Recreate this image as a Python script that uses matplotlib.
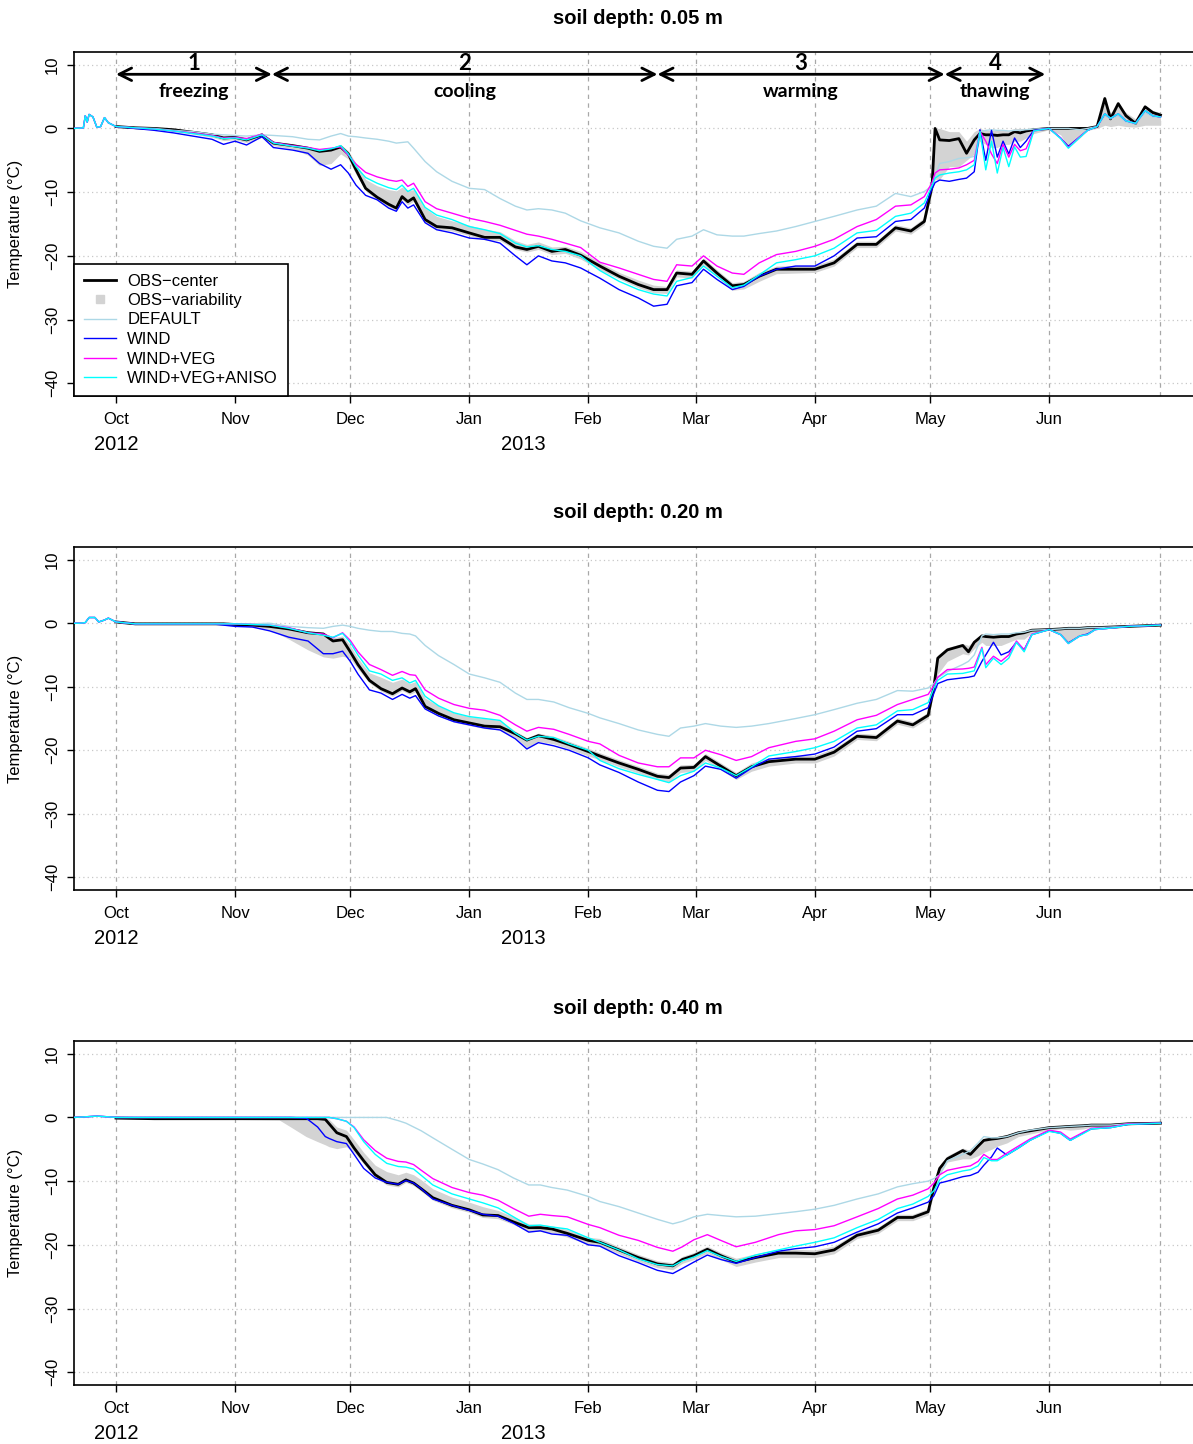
import numpy as np
import matplotlib
matplotlib.use('Agg')
import matplotlib.pyplot as plt
import matplotlib.dates as mdates
from matplotlib.lines import Line2D

plt.rcParams['font.family'] = ['Liberation Sans', 'DejaVu Sans']
plt.rcParams['axes.unicode_minus'] = True
nan = float('nan')

# ---------------- labels / categories ----------------
BASE_DATE = '2012-10-01'          # day 0 of every day-offset list below
panel_titles = ['soil depth: 0.05 m', 'soil depth: 0.20 m', 'soil depth: 0.40 m']
month_ticks = ['2012-10-01', '2012-11-01', '2012-12-01', '2013-01-01', '2013-02-01',
               '2013-03-01', '2013-04-01', '2013-05-01', '2013-06-01']
month_labels = ['Oct', 'Nov', 'Dec', 'Jan', 'Feb', 'Mar', 'Apr', 'May', 'Jun']
year_labels = ['2012', '2013']
year_label_dates = ['2012-10-01', '2013-01-15']
vline_dates = month_ticks + ['2013-06-30']
y_ticks = [-40, -30, -20, -10, 0, 10]
y_tick_labels = ['\u221240', '\u221230', '\u221220', '\u221210', '0', '10']
series_names = ['OBS\u2212center', 'OBS\u2212variability', 'DEFAULT', 'WIND', 'WIND+VEG', 'WIND+VEG+ANISO']
phase_numbers = ['1', '2', '3', '4']
phase_names = ['freezing', 'cooling', 'warming', 'thawing']
phase_bounds_days = [0, 40.6, 141, 215.8, 242]

# ---------------- panel 1 : 0.05 m ----------------
p1_day = [-11, -8.5, -8, -7.5, -7, -6, -5, -4, -3, -2,
          0, 5, 10, 15, 20, 25, 28, 31, 34, 38,
          41, 46, 50, 53, 56, 58.5, 60.5, 62.5, 65, 68,
          71, 73, 74.5, 76, 77.5, 80.5, 83.5, 87.5, 92, 96,
          100, 104, 107, 110, 113.5, 117, 121, 126, 131, 136,
          140, 143.5, 146, 150, 153, 156.5, 160.5, 163.5, 167.5, 172,
          177, 182, 187, 193, 198, 203, 207, 210.5, 212.5, 213.3,
          214.5, 217, 219.5, 221.5, 223.5, 225, 226.5, 228, 229.5, 231,
          232.5, 234, 235.5, 237, 239, 243, 246, 248, 251, 253,
          255.5, 257.5, 259, 261, 263, 265.5, 268, 270, 272]
p1_obs = [nan] * 10 + [
          0.3, 0.1, 0.0, -0.2, -0.6, -1.0, -1.5, -1.4, -1.8, -1.0,
          -2.3, -2.7, -3.1, -3.6, -3.4, -2.9, -4.0, -6.5, -9.4, -10.8,
          -11.9, -12.5, -10.7, -11.5, -10.9, -14.3, -15.4, -15.6, -16.4, -17.1,
          -17.1, -18.6, -19.0, -18.5, -19.3, -19.0, -19.9, -21.6, -23.2, -24.5,
          -25.3, -25.3, -22.7, -22.9, -20.8, -22.7, -24.7, -24.5, -23.2, -22.1,
          -22.1, -22.1, -21.1, -18.2, -18.2, -15.6, -16.1, -14.6, -9.1, 0.0,
          -1.8, -1.9, -1.6, -3.9, -1.8, -0.8, -1.0, -1.0, -1.1, -1.0,
          -1.0, -0.5, -0.7, -0.4, -0.2, 0.0, 0.0, 0.0, 0.0, 0.0,
          0.3, 4.7, 1.5, 3.9, 2.0, 0.8, 3.4, 2.5, 2.1]
p1_obs_lo = [nan] * 10 + [
          0.1, 0.0, -0.2, -0.5, -0.9, -1.4, -1.9, -1.8, -2.2, -1.4,
          -2.7, -3.2, -4.2, -5.8, -5.5, -4.0, -4.8, -7.2, -9.8, -11.2,
          -12.3, -12.8, -11.2, -12.0, -11.4, -14.7, -15.8, -16.1, -16.8, -17.5,
          -17.6, -19.0, -19.4, -19.0, -19.8, -19.6, -20.5, -22.2, -23.6, -25.0,
          -25.8, -25.9, -23.3, -23.5, -21.4, -23.3, -25.4, -25.2, -24.0, -22.8,
          -22.7, -22.6, -21.6, -18.7, -18.7, -16.1, -16.6, -15.1, -10.0, -8.0,
          -8.0, -6.0, -6.0, -5.0, -4.0, -2.0, -2.5, -3.0, -3.0, -2.5,
          -2.5, -2.0, -2.0, -1.5, -0.8, -0.2, -1.0, -3.0, -1.5, -0.3,
          0.0, 0.5, 0.3, 0.5, 0.3, 0.2, 0.5, 0.5, 0.5]
p1_obs_hi = [nan] * 10 + [
          0.4, 0.2, 0.1, 0.0, -0.3, -0.7, -1.1, -1.0, -1.4, -0.8,
          -2.0, -2.4, -2.8, -3.2, -3.0, -2.5, -3.5, -5.5, -8.0, -9.0,
          -9.6, -9.8, -9.2, -9.8, -9.6, -12.5, -13.8, -14.5, -15.2, -15.8,
          -16.2, -17.6, -18.2, -17.8, -18.6, -18.5, -19.3, -21.0, -22.6, -23.8,
          -24.6, -24.8, -22.2, -22.4, -20.3, -22.2, -24.2, -24.0, -22.6, -21.6,
          -21.5, -21.5, -20.5, -17.7, -17.7, -15.1, -15.6, -14.0, -8.0, 0.0,
          0.0, -0.5, -0.5, -2.0, -0.5, 0.0, -0.3, -0.3, -0.3, -0.3,
          -0.3, 0.0, 0.0, 0.0, 0.0, 0.0, 0.0, 0.0, 0.0, 0.0,
          0.5, 4.5, 2.5, 3.5, 2.5, 1.5, 3.0, 2.8, 2.5]
p1_default = [0.0, 0.1, 2.0, 1.0, 2.2, 1.8, 0.2, 0.3, 1.7, 0.9,
          0.3, 0.1, 0.0, -0.3, -0.5, -0.9, -1.0, -1.1, -1.2, -1.0,
          -1.1, -1.3, -1.7, -1.8, -1.2, -0.8, -1.2, -1.3, -1.5, -1.7,
          -2.0, -2.3, -2.2, -2.1, -3.1, -5.2, -6.8, -8.3, -9.4, -9.6,
          -11.0, -12.2, -12.8, -12.6, -12.8, -13.3, -14.5, -15.6, -16.4, -17.7,
          -18.5, -18.8, -17.4, -16.9, -15.9, -16.7, -16.9, -16.9, -16.5, -16.1,
          -15.4, -14.6, -13.8, -12.8, -12.2, -10.2, -10.7, -9.9, -9.0, -7.5,
          -5.5, -5.2, -4.7, -4.6, -4.4, -0.5, -0.3, -0.2, -0.3, -0.3,
          -0.4, -0.3, -0.3, -0.2, -0.1, 0.0, 0.0, 0.0, -0.2, 0.0,
          0.3, 2.0, 1.5, 2.0, 1.0, 0.7, 2.5, 1.8, 1.8]
p1_wind = [0.0, 0.1, 2.0, 1.0, 2.2, 1.8, 0.2, 0.3, 1.7, 0.9,
          0.3, 0.0, -0.3, -0.7, -1.2, -1.7, -2.5, -2.0, -2.6, -1.3,
          -3.0, -3.4, -3.9, -5.5, -6.4, -5.7, -7.0, -8.9, -10.5, -11.2,
          -12.5, -13.0, -11.5, -12.5, -12.0, -14.8, -15.9, -16.4, -17.2, -17.4,
          -18.0, -20.0, -21.4, -20.0, -20.8, -21.1, -21.9, -23.5, -25.3, -26.6,
          -27.9, -27.6, -24.7, -24.2, -22.1, -23.7, -25.3, -24.8, -23.2, -22.1,
          -21.6, -21.6, -20.0, -17.2, -17.0, -14.6, -14.3, -12.5, -9.5, -8.5,
          -8.1, -8.3, -8.0, -7.8, -6.8, -0.2, -5.0, -0.3, -4.5, -2.0,
          -4.0, -1.5, -3.0, -2.0, -0.3, 0.0, -1.5, -2.8, -1.3, -0.3,
          0.3, 2.3, 1.6, 2.3, 1.2, 0.8, 2.8, 2.0, 1.8]
p1_veg = [0.0, 0.1, 2.0, 1.0, 2.2, 1.8, 0.2, 0.3, 1.7, 0.9,
          0.3, 0.1, -0.1, -0.4, -0.7, -1.1, -1.5, -1.4, -1.6, -0.9,
          -2.2, -2.7, -3.0, -3.3, -3.1, -2.9, -4.2, -5.6, -6.9, -7.6,
          -8.1, -8.3, -8.1, -9.1, -8.6, -11.5, -12.6, -13.3, -14.1, -14.6,
          -15.2, -16.0, -16.6, -16.9, -17.4, -18.0, -18.7, -21.0, -21.9, -22.9,
          -23.7, -24.0, -21.4, -21.6, -20.0, -21.6, -22.7, -22.9, -21.1, -19.8,
          -19.3, -18.5, -17.4, -15.4, -14.3, -12.2, -12.0, -10.7, -8.5, -7.0,
          -6.5, -6.4, -6.2, -5.7, -5.0, -0.5, -2.0, -4.0, -5.5, -2.5,
          -4.5, -2.5, -3.5, -3.2, -0.4, 0.0, -1.5, -3.0, -1.3, -0.3,
          0.3, 2.3, 1.6, 2.3, 1.2, 0.8, 2.8, 2.0, 1.8]
p1_aniso = [0.0, 0.1, 2.0, 1.0, 2.2, 1.8, 0.2, 0.3, 1.7, 0.9,
          0.3, 0.1, -0.1, -0.4, -0.8, -1.2, -1.6, -1.5, -1.8, -1.0,
          -2.3, -2.8, -3.1, -3.5, -3.2, -2.7, -4.0, -6.0, -7.7, -8.6,
          -9.3, -9.6, -8.9, -9.9, -9.4, -12.4, -13.6, -14.3, -15.4, -15.9,
          -16.5, -18.0, -18.6, -18.4, -19.0, -19.3, -20.0, -22.3, -24.0, -25.3,
          -26.0, -26.3, -24.0, -23.4, -21.6, -23.2, -25.0, -24.6, -23.0, -21.1,
          -20.6, -20.0, -18.8, -16.4, -16.0, -13.8, -13.3, -11.7, -9.0, -7.8,
          -7.3, -7.0, -6.8, -6.5, -5.7, -0.5, -6.5, -2.0, -7.0, -3.0,
          -6.0, -2.9, -4.5, -4.4, -0.4, 0.0, -1.6, -3.1, -1.4, -0.3,
          0.3, 2.3, 1.6, 2.3, 1.2, 0.8, 2.8, 2.0, 1.8]

# ---------------- panel 2 : 0.20 m ----------------
p2_day = [-11, -9.5, -8, -7, -5.5, -4.5, -3, -2, -1, 0,
          5, 15, 25, 28, 31, 35.5, 40, 45, 50, 54,
          56.5, 59, 61, 63, 66, 69, 72, 74.5, 76.5, 78,
          80.5, 84, 88, 92, 96, 100, 104, 107, 110, 114,
          118, 123, 126, 131, 136, 141, 144, 147, 150.5, 153.5,
          157.5, 161.5, 165.5, 170, 177, 182, 187, 193, 198, 203.5,
          207.5, 211.5, 213, 214, 216.5, 220.5, 222, 223.5, 225.5, 226.5,
          228.5, 230.5, 232.5, 234.5, 236.5, 238.5, 243, 246, 248, 251,
          253, 255, 263.5, 272]
p2_obs = [nan] * 9 + [0.2,
          -0.1, -0.1, -0.1, -0.1, -0.2, -0.3, -0.5, -0.9, -1.5, -1.7,
          -2.8, -2.6, -4.5, -6.5, -9.0, -10.3, -11.1, -10.2, -10.8, -10.3,
          -13.1, -14.2, -15.2, -15.7, -16.2, -16.3, -17.4, -18.4, -17.7, -18.3,
          -19.1, -20.2, -20.9, -22.0, -23.0, -24.1, -24.3, -22.8, -22.7, -21.0,
          -22.5, -24.0, -22.6, -21.8, -21.4, -21.4, -20.3, -17.8, -18.0, -15.4,
          -16.0, -14.5, -10.0, -5.5, -4.2, -3.5, -4.5, -3.0, -2.0, -2.1,
          -2.2, -2.1, -2.1, -1.7, -1.5, -1.1, -1.0, -0.9, -0.8, -0.8,
          -0.7, -0.7, -0.5, -0.3]
p2_obs_lo = [nan] * 9 + [0.1,
          -0.2, -0.2, -0.2, -0.2, -0.4, -0.6, -1.0, -2.5, -4.2, -5.3,
          -5.5, -5.2, -5.5, -7.2, -9.4, -10.7, -11.5, -10.6, -11.2, -10.8,
          -13.5, -14.6, -15.6, -16.1, -16.6, -16.8, -18.0, -19.6, -18.6, -19.0,
          -19.8, -20.9, -21.5, -22.6, -23.6, -24.6, -25.0, -23.5, -23.3, -21.6,
          -23.1, -24.6, -23.3, -22.5, -22.0, -22.0, -20.9, -18.3, -18.5, -15.9,
          -16.5, -15.0, -11.0, -8.0, -6.0, -4.8, -5.0, -4.0, -3.0, -3.5,
          -3.5, -3.5, -3.0, -2.5, -2.5, -1.5, -1.1, -1.8, -3.0, -2.0,
          -1.8, -1.0, -0.6, -0.4]
p2_obs_hi = [nan] * 9 + [0.3,
          0.0, 0.0, 0.0, 0.0, 0.0, -0.1, -0.3, -0.6, -1.2, -1.4,
          -2.3, -2.0, -3.5, -5.5, -7.8, -8.5, -9.3, -8.8, -9.5, -9.2,
          -11.8, -13.0, -14.1, -14.7, -15.0, -15.3, -17.0, -18.0, -17.3, -17.8,
          -18.6, -19.7, -20.4, -21.5, -22.5, -23.6, -23.8, -22.3, -22.2, -20.5,
          -22.0, -23.5, -22.0, -21.2, -20.8, -20.8, -19.7, -17.3, -17.5, -14.9,
          -15.5, -14.0, -9.0, -5.0, -3.8, -3.2, -3.5, -2.7, -1.8, -1.8,
          -1.9, -1.8, -1.8, -1.5, -1.3, -1.0, -0.9, -0.8, -0.7, -0.7,
          -0.6, -0.6, -0.4, -0.2]
p2_default = [0.0, 0.0, 0.1, 0.9, 0.9, 0.2, 0.5, 0.8, 0.5, 0.2,
          -0.1, -0.1, -0.1, -0.1, -0.1, -0.1, 0.0, -0.5, -0.7, -0.8,
          -0.5, -0.3, -0.5, -0.8, -1.1, -1.3, -1.3, -1.6, -1.7, -2.0,
          -3.5, -5.1, -6.5, -8.0, -8.6, -9.3, -11.0, -12.0, -12.0, -12.4,
          -13.3, -14.2, -14.9, -15.8, -16.8, -17.5, -17.8, -16.5, -16.2, -15.8,
          -16.2, -16.4, -16.2, -15.8, -15.0, -14.4, -13.6, -12.6, -12.0, -10.6,
          -10.7, -10.2, -9.5, -8.6, -7.6, -6.5, -6.0, -5.0, -2.0, -1.7,
          -1.8, -1.7, -1.7, -1.5, -1.4, -1.1, -1.0, -0.9, -0.8, -0.8,
          -0.7, -0.7, -0.5, -0.3]
p2_wind = [0.0, 0.0, 0.1, 0.9, 0.9, 0.2, 0.5, 0.8, 0.5, 0.2,
          -0.1, -0.1, -0.1, -0.3, -0.5, -0.6, -1.2, -2.2, -2.8, -4.8,
          -4.8, -4.4, -6.0, -8.0, -10.5, -11.0, -12.0, -11.2, -11.8, -11.4,
          -13.5, -14.6, -15.5, -16.0, -16.5, -16.8, -18.2, -19.8, -18.8, -19.3,
          -20.0, -21.2, -22.3, -23.5, -25.0, -26.3, -26.5, -25.0, -24.0, -22.5,
          -23.0, -24.4, -22.8, -21.4, -21.0, -20.6, -19.5, -17.0, -16.6, -14.4,
          -14.4, -13.3, -11.0, -9.5, -8.9, -8.6, -8.5, -8.3, -6.0, -5.0,
          -3.0, -5.0, -4.5, -3.0, -4.2, -1.8, -1.0, -1.8, -3.1, -2.0,
          -1.7, -1.0, -0.5, -0.3]
p2_veg = [0.0, 0.0, 0.1, 0.9, 0.9, 0.2, 0.5, 0.8, 0.5, 0.2,
          -0.1, -0.1, -0.1, -0.1, -0.1, -0.2, -0.3, -0.7, -1.5, -1.7,
          -2.3, -1.5, -2.7, -4.5, -6.5, -7.3, -8.2, -7.6, -8.1, -8.2,
          -10.5, -11.8, -12.8, -13.4, -13.7, -14.5, -16.0, -17.0, -16.4, -16.7,
          -17.5, -18.6, -19.0, -20.8, -22.0, -22.6, -22.6, -21.2, -21.2, -20.0,
          -20.7, -21.6, -21.0, -19.6, -18.6, -18.2, -17.0, -15.2, -14.5, -12.8,
          -12.0, -11.2, -9.8, -8.5, -7.3, -7.2, -7.1, -6.9, -3.8, -6.5,
          -5.2, -6.0, -5.0, -2.8, -4.2, -1.7, -1.0, -1.8, -3.2, -2.0,
          -1.8, -1.0, -0.5, -0.3]
p2_aniso = [0.0, 0.0, 0.1, 0.9, 0.9, 0.2, 0.5, 0.8, 0.5, 0.2,
          -0.1, -0.1, -0.1, -0.1, -0.1, -0.2, -0.3, -0.8, -1.5, -1.9,
          -2.2, -1.6, -3.0, -5.0, -7.5, -8.0, -9.0, -8.6, -9.4, -9.0,
          -11.5, -13.0, -14.1, -14.7, -15.0, -15.3, -17.3, -18.4, -17.8, -18.0,
          -19.0, -20.0, -21.6, -22.9, -23.8, -24.6, -25.1, -24.0, -23.3, -22.0,
          -22.8, -24.0, -22.6, -20.9, -20.2, -19.6, -18.6, -16.5, -16.0, -13.8,
          -13.6, -12.5, -10.2, -9.0, -8.0, -7.9, -7.7, -7.5, -4.0, -7.0,
          -5.5, -6.5, -5.5, -3.0, -4.5, -1.8, -1.0, -1.8, -3.2, -2.0,
          -1.8, -1.0, -0.5, -0.3]

# ---------------- panel 3 : 0.40 m ----------------
p3_day = [-11, -5, -2, 0, 10, 20, 30, 42.5, 45.5, 49.5,
          52.5, 54.5, 55.5, 57.5, 60, 62, 64.5, 67.5, 70.5, 73.5,
          75.5, 77.5, 79.5, 82.5, 87.5, 92, 95.5, 99.5, 103.5, 107.5,
          110.5, 113.5, 117.5, 123, 126, 131, 136, 141, 145, 147.5,
          150.5, 154, 157.5, 161.5, 166.5, 172.5, 177, 182, 187, 193,
          198.5, 203.5, 207.5, 211.5, 213, 214.5, 216.5, 220.5, 222.5, 224.5,
          226, 228, 229.5, 232, 235, 238, 243, 246, 248.5, 252,
          254, 259, 263.5, 272]
p3_obs = [nan, nan, nan, -0.1, -0.2, -0.2, -0.2, -0.2, -0.2, -0.2,
          -0.2, -0.3, -1.0, -2.4, -3.0, -4.8, -6.8, -9.0, -10.2, -10.5,
          -9.8, -10.3, -11.2, -12.6, -13.8, -14.5, -15.3, -15.4, -16.4, -17.3,
          -17.3, -17.5, -18.2, -19.3, -19.6, -20.8, -22.0, -23.0, -23.3, -22.3,
          -21.7, -20.7, -21.7, -22.7, -22.0, -21.3, -21.3, -21.4, -20.8, -18.5,
          -17.7, -15.7, -15.7, -14.8, -11.0, -8.0, -6.5, -5.2, -5.8, -4.5,
          -3.6, -3.4, -3.3, -3.0, -2.4, -2.1, -1.6, -1.5, -1.4, -1.3,
          -1.2, -1.2, -1.0, -0.9]
p3_obs_lo = [nan, nan, nan, -0.2, -0.3, -0.3, -0.3, -0.4, -1.5, -3.0,
          -3.8, -4.3, -4.6, -4.9, -4.6, -5.5, -7.3, -9.4, -10.6, -10.9,
          -10.2, -10.7, -11.6, -13.0, -14.2, -14.9, -15.7, -15.9, -16.8, -17.9,
          -17.9, -18.1, -18.8, -19.9, -20.2, -21.4, -22.6, -23.6, -23.9, -22.9,
          -22.3, -21.3, -22.3, -23.4, -22.7, -22.0, -22.0, -22.0, -21.4, -19.0,
          -18.2, -16.2, -16.2, -15.3, -12.0, -9.0, -7.0, -6.5, -6.5, -6.0,
          -5.5, -5.0, -4.5, -4.0, -3.0, -2.6, -2.0, -1.8, -2.0, -1.8,
          -1.5, -1.4, -1.1, -1.0]
p3_obs_hi = [nan, nan, nan, 0.0, -0.1, -0.1, -0.1, -0.1, -0.1, -0.1,
          -0.1, -0.1, -0.3, -1.5, -2.0, -3.5, -5.5, -7.5, -8.5, -9.0,
          -8.6, -9.0, -9.8, -11.2, -12.5, -13.3, -14.0, -14.6, -15.6, -16.7,
          -16.8, -17.0, -17.6, -18.8, -19.0, -20.3, -21.5, -22.5, -22.8, -21.8,
          -21.2, -20.2, -21.2, -22.1, -21.4, -20.7, -20.7, -20.8, -20.2, -18.0,
          -17.2, -15.2, -15.2, -14.3, -10.0, -7.5, -6.0, -4.8, -5.2, -4.0,
          -3.3, -3.1, -3.0, -2.7, -2.2, -1.9, -1.5, -1.4, -1.3, -1.2,
          -1.1, -1.1, -0.9, -0.8]
p3_default = [0.0, 0.2, 0.1, 0.0, 0.0, 0.0, 0.0, 0.0, 0.0, 0.0,
          0.0, 0.0, 0.0, 0.0, 0.0, 0.0, 0.0, 0.0, 0.0, -0.5,
          -0.9, -1.5, -2.1, -3.2, -5.0, -6.6, -7.3, -8.2, -9.5, -10.6,
          -10.6, -11.0, -11.4, -12.4, -13.2, -14.0, -15.0, -16.0, -16.7, -16.3,
          -15.6, -15.2, -15.4, -15.6, -15.5, -15.1, -14.8, -14.4, -13.8, -12.8,
          -12.0, -10.9, -10.4, -10.0, -9.6, -9.0, -6.8, -5.8, -5.2, -4.0,
          -3.0, -3.2, -3.2, -3.0, -2.4, -2.0, -1.6, -1.5, -1.4, -1.3,
          -1.2, -1.2, -1.0, -0.9]
p3_wind = [0.0, 0.2, 0.1, 0.0, 0.0, 0.0, 0.0, 0.0, 0.0, -0.1,
          -1.5, -3.0, -3.3, -3.8, -4.1, -5.8, -8.0, -9.5, -10.2, -10.5,
          -9.9, -10.3, -11.2, -12.8, -13.8, -14.6, -15.2, -15.5, -16.6, -18.0,
          -17.8, -18.3, -18.5, -20.0, -20.2, -21.7, -22.8, -24.0, -24.5, -23.7,
          -22.7, -21.6, -22.3, -22.9, -22.0, -21.0, -20.6, -20.3, -19.6, -18.0,
          -16.7, -15.0, -14.2, -13.3, -12.3, -10.3, -10.0, -9.3, -9.1, -8.6,
          -7.5, -6.2, -4.8, -5.9, -4.8, -3.6, -2.1, -2.5, -3.6, -2.4,
          -1.8, -1.6, -1.1, -0.9]
p3_veg = [0.0, 0.2, 0.1, 0.0, 0.0, 0.0, 0.0, 0.0, 0.0, 0.0,
          0.0, 0.0, 0.0, -0.2, -0.6, -1.5, -3.5, -5.2, -6.4, -6.9,
          -7.0, -7.4, -8.3, -9.6, -11.0, -11.8, -12.2, -13.0, -14.3, -15.5,
          -15.2, -15.4, -15.6, -16.8, -17.3, -18.5, -19.3, -20.4, -21.0, -20.3,
          -19.2, -18.4, -19.3, -20.3, -19.6, -18.4, -17.8, -17.6, -17.0, -15.6,
          -14.3, -12.8, -12.2, -11.2, -10.3, -9.0, -8.3, -7.8, -7.6, -6.9,
          -5.8, -6.6, -6.6, -5.6, -4.5, -3.4, -2.0, -2.3, -3.4, -2.3,
          -1.7, -1.5, -1.0, -0.9]
p3_aniso = [0.0, 0.2, 0.1, 0.0, 0.0, 0.0, 0.0, 0.0, 0.0, 0.0,
          0.0, 0.0, 0.0, -0.2, -0.6, -1.6, -3.8, -5.8, -7.2, -7.7,
          -7.8, -8.1, -9.1, -10.6, -12.0, -12.8, -13.4, -14.2, -15.6, -17.0,
          -16.9, -17.2, -17.5, -18.9, -19.6, -20.8, -22.2, -23.1, -23.3, -22.5,
          -21.9, -20.9, -21.8, -22.6, -21.6, -20.8, -20.2, -19.6, -18.9, -17.3,
          -16.0, -14.3, -13.6, -12.4, -11.5, -9.8, -9.0, -8.4, -8.2, -7.6,
          -6.3, -6.8, -6.8, -5.9, -4.8, -3.6, -2.2, -2.5, -3.6, -2.5,
          -1.8, -1.6, -1.1, -0.9]

panels = [
    (p1_day, p1_obs, p1_obs_lo, p1_obs_hi, p1_default, p1_wind, p1_veg, p1_aniso),
    (p2_day, p2_obs, p2_obs_lo, p2_obs_hi, p2_default, p2_wind, p2_veg, p2_aniso),
    (p3_day, p3_obs, p3_obs_lo, p3_obs_hi, p3_default, p3_wind, p3_veg, p3_aniso),
]
for pdat in panels:
    n = len(pdat[0])
    assert all(len(s) == n for s in pdat), [len(s) for s in pdat]

# ---------------- styles ----------------
W, H = 1193, 1444
col_band = '#d3d3d3'
col_default = '#add8e6'
col_wind = '#0000ff'
col_veg = '#ff00ff'
col_aniso = '#00ffff'
panel_tops = [52, 547, 1041]
panel_bottoms = [396, 890, 1385]
title_y = [18, 513, 1008]

base_num = mdates.date2num(np.datetime64(BASE_DATE))


def dnum(days):
    return base_num + np.asarray(days, dtype=float)


def date_num(s):
    return mdates.date2num(np.datetime64(s))


fig = plt.figure(figsize=(W / 100, H / 100), dpi=100)

for i, pdat in enumerate(panels):
    day, obs, lo, hi, dflt, wind, veg, aniso = [np.asarray(a, dtype=float) for a in pdat]
    x = dnum(day)
    ax = fig.add_axes([74 / W, 1 - panel_bottoms[i] / H, (W - 74) / W,
                       (panel_bottoms[i] - panel_tops[i]) / H])
    ax.set_xlim(dnum(-10.94), dnum(280.47))
    ax.set_ylim(-42, 12)

    for yv in y_ticks:
        ax.axhline(yv, color='#c8c8c8', lw=0.9, ls=(0, (1, 2.5)), zorder=0)
    for d in vline_dates:
        ax.axvline(date_num(d), color='#a8a8a8', lw=0.9, ls=(0, (3.5, 3.5)), zorder=0.5)

    ax.fill_between(x, lo, hi, color=col_band, lw=0, zorder=1)
    ax.plot(x, obs, color='black', lw=2.0, zorder=2)
    ax.plot(x, dflt, color=col_default, lw=1.0, zorder=3)
    ax.plot(x, wind, color=col_wind, lw=1.0, zorder=3)
    ax.plot(x, veg, color=col_veg, lw=1.0, zorder=3)
    ax.plot(x, aniso, color=col_aniso, lw=1.0, zorder=3)

    ax.set_xticks([date_num(d) for d in month_ticks])
    ax.set_xticklabels(month_labels)
    ax.tick_params(axis='x', length=5, width=1.0, pad=6.5, labelsize=12)
    ax.set_yticks(y_ticks)
    ax.set_yticklabels(y_tick_labels)
    ax.tick_params(axis='y', length=5, width=1.0, pad=5, labelsize=12, labelrotation=90)
    for lab in ax.get_yticklabels():
        lab.set_va('center')
    for sp in ['left', 'top', 'bottom']:
        ax.spines[sp].set_linewidth(1.2)
    ax.spines['right'].set_visible(False)

    for txt, d in zip(year_labels, year_label_dates):
        ax.annotate(txt, xy=(date_num(d), 0), xycoords=('data', 'axes fraction'),
                    xytext=(0, -35), textcoords='offset points',
                    ha='center', va='center', fontsize=14.5)

    fig.text(638 / W, 1 - title_y[i] / H, panel_titles[i], ha='center', va='center',
             fontsize=14.5, fontweight='bold')
    fig.text(16 / W, 1 - (panel_tops[i] + panel_bottoms[i]) / 2 / H, 'Temperature (\u00b0C)',
             rotation=90, ha='center', va='center', fontsize=12)

    if i == 0:
        handles = [
            Line2D([], [], color='black', lw=2.0),
            Line2D([], [], color=col_band, marker='s', ls='None', markersize=6),
            Line2D([], [], color=col_default, lw=1.0),
            Line2D([], [], color=col_wind, lw=1.0),
            Line2D([], [], color=col_veg, lw=1.0),
            Line2D([], [], color=col_aniso, lw=1.0),
        ]
        leg = ax.legend(handles, series_names, loc='lower left', bbox_to_anchor=(0, 0),
                        borderaxespad=0, fontsize=12, frameon=True, fancybox=False,
                        edgecolor='black', framealpha=1, handlelength=1.9,
                        handletextpad=0.7, labelspacing=0.27, borderpad=0.6)
        leg.get_frame().set_linewidth(1.2)
        leg.set_zorder(10)

        ya = 8.5
        for k in range(4):
            a, b = phase_bounds_days[k], phase_bounds_days[k + 1]
            ax.annotate('', xy=(dnum(a), ya), xytext=(dnum(b), ya),
                        arrowprops=dict(arrowstyle='<->,head_length=0.9,head_width=0.45',
                                        lw=2, color='black', shrinkA=0, shrinkB=0),
                        zorder=6)
            mid = dnum((a + b) / 2)
            ax.text(mid, 10.2, phase_numbers[k], ha='center', va='center', fontsize=16,
                    fontweight='bold', family=['Lato', 'DejaVu Sans'], zorder=6)
            ax.text(mid, 5.8, phase_names[k], ha='center', va='center', fontsize=14,
                    fontweight='bold', family=['Lato', 'DejaVu Sans'], zorder=6)

fig.savefig('out.png', dpi=100)
